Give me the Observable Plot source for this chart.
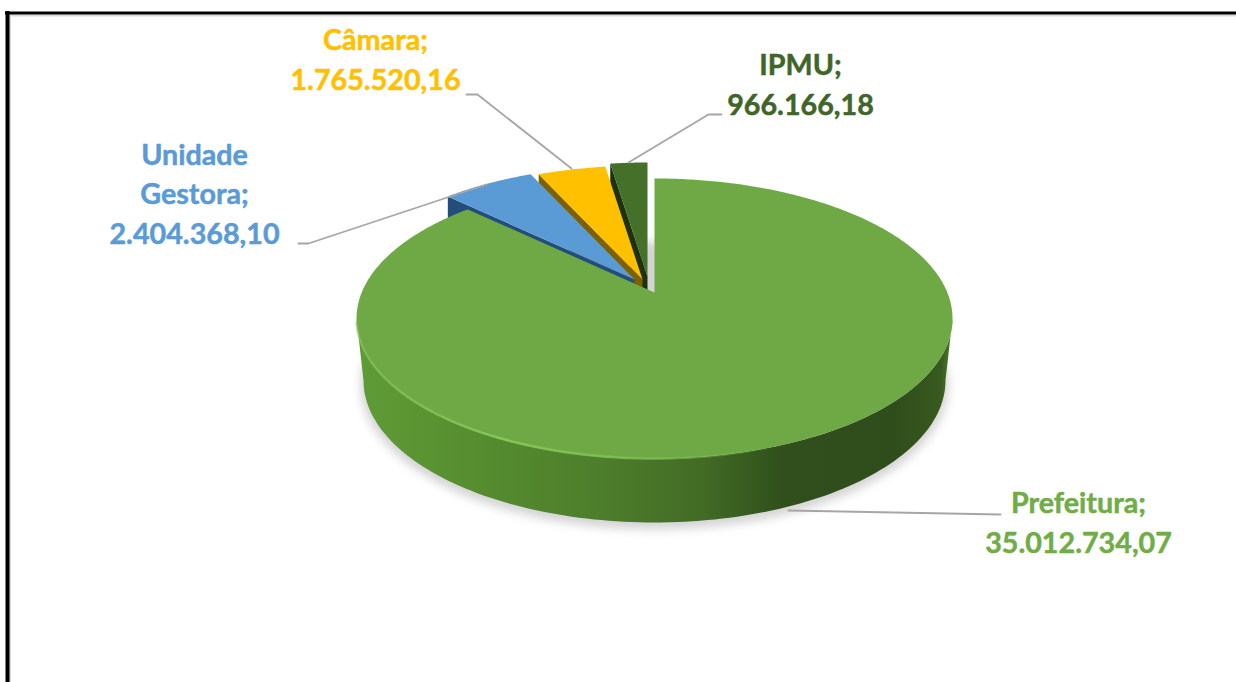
<!DOCTYPE html>
<html>
<head>
<meta charset="utf-8">
<script src="https://cdn.jsdelivr.net/npm/d3@7"></script>
<script src="https://cdn.jsdelivr.net/npm/@observablehq/plot@0.6"></script>
<style>
html,body{margin:0;padding:0;background:#fff;overflow:hidden}
svg{display:block}
</style>
</head>
<body>
<div id="chart"></div>
<script>
// ---- data ----
const categories = ["Prefeitura", "Unidade Gestora", "Câmara", "IPMU"];
const amounts = [35012734.07, 2404368.10, 1765520.16, 966166.18];
const labelNames = ["Prefeitura;", "Unidade\nGestora;", "Câmara;", "IPMU;"];
const topColors = ["#6ea945", "#5b9bd5", "#ffc000", "#44702a"];
const faceColors = ["#4a7a2a", "#234e7c", "#7f6000", "#1d3310"];
const textColors = ["#70ad47", "#5b9bd5", "#ffc000", "#3f6628"];

// ---- layout (pixels of the 1236x682 frame) ----
const W = 1236, H = 682;
const disc = {cx: 654, cy: 318, rx: 298, ry: 140, tilt: -0.186};
const base = {cx: 654, cy: 380, rx: 291, ry: 142};
const explode = [[0, 0], [-20, -13], [-12, -13], [-7, -16]];
const labelAt = [[1078, 520], [194, 191], [375, 57], [800, 82]];
const leaders = [
  [[788, 510], [1000, 514]],
  [[298, 243], [308, 243], [486, 184]],
  [[466, 94], [477, 94], [571, 168]],
  [[721, 114], [708, 114], [628, 162]]
];
const FONT = "Lato, Carlito, sans-serif";
const FONT_SIZE = 28.7;

// ---- geometry helpers ----
const fmt = d3.formatLocale({decimal: ",", thousands: ".", grouping: [3], currency: ["", ""]}).format(",.2f");
const total = d3.sum(amounts);
const rad = d => d * Math.PI / 180;
function project(theta, r = 1) {
  const u = r * Math.sin(theta), v = -r * Math.cos(theta), b = disc.tilt;
  const w = 1 + b * v;
  return {x: disc.cx + disc.rx * u * Math.sqrt(1 - b * b) / w, y: disc.cy + disc.ry * (v + b) / w};
}
const ellipsePts = (e, a0, a1) => d3.range(0, 121).map(i => {
  const a = rad(a0 + (a1 - a0) * i / 120);
  return {x: e.cx + e.rx * Math.cos(a), y: e.cy + e.ry * Math.sin(a)};
});
function poly(points, fill, extra = {}) {
  return Plot.line(points, {x: "x", y: "y", fill, stroke: "none", curve: "linear", ...extra});
}
const blur = px => (index, scales, values, dimensions, context, next) => {
  const g = next(index, scales, values, dimensions, context);
  g.style.filter = `blur(${px}px)`;
  return g;
};

// slices clockwise from the top
let acc = 0;
const slices = amounts.map((v, i) => {
  const a0 = acc / total * 2 * Math.PI;
  acc += v;
  return {i, a0, a1: acc / total * 2 * Math.PI};
});
function wedge(s) {
  const [dx, dy] = explode[s.i];
  const n = Math.max(6, Math.ceil((s.a1 - s.a0) * 80));
  const pts = [project(0, 0)];
  for (let k = 0; k <= n; k++) pts.push(project(s.a0 + (s.a1 - s.a0) * k / n));
  return pts.map(p => ({x: p.x + dx, y: p.y + dy}));
}
function cutFace(s, depth) {
  const [dx, dy] = explode[s.i];
  const apex = project(0, 0), outer = project(s.a0);
  const a = {x: apex.x + dx, y: apex.y + dy}, o = {x: outer.x + dx, y: outer.y + dy};
  return [a, o, {x: o.x, y: o.y + depth}, {x: a.x, y: a.y + depth}];
}

// gradients
const defs = () => {
  const d = d3.create("svg:defs");
  const add = (id, stops) => {
    const g = d.append("linearGradient").attr("id", id).attr("gradientUnits", "userSpaceOnUse")
      .attr("x1", 356).attr("x2", 952).attr("y1", 0).attr("y2", 0);
    stops.forEach(([o, c, op]) => g.append("stop").attr("offset", o).attr("stop-color", c).attr("stop-opacity", op ?? 1));
  };
  add("side", [[0, "#5f9c36"], [0.18, "#578f30"], [0.42, "#4d7d2b"], [0.58, "#426b25"], [0.72, "#304f1c"], [0.9, "#2f4d1b"], [0.98, "#38591f"], [1, "#4c8029"]]);
  add("rim", [[0, "#86c658", 0.5], [0.25, "#86c658", 1], [0.5, "#7dbd50", 0.8], [0.7, "#7dbd50", 0]]);
  return d.node();
};

// ---- marks ----
const small = slices.slice(1).reverse();
const labels = categories.map((c, i) => ({
  text: labelNames[i] + "\n" + fmt(amounts[i]),
  x: labelAt[i][0], y: labelAt[i][1], color: textColors[i]
}));

const plot = Plot.plot({
  width: W, height: H,
  marginTop: 0, marginRight: 0, marginBottom: 0, marginLeft: 0,
  x: {domain: [0, W], range: [0, W], axis: null},
  y: {domain: [0, H], range: [0, H], axis: null},
  style: {background: "#fff"},
  marks: [
    defs,
    // frame
    Plot.ruleX([9.5], {y1: 14, y2: H, stroke: "#d9d9d9", strokeWidth: 2}),
    Plot.ruleY([15], {x1: 9, x2: W, stroke: "#d9d9d9", strokeWidth: 2}),
    Plot.ruleX([7], {y1: 11, y2: H, stroke: "#000", strokeWidth: 4}),
    Plot.ruleY([12.5], {x1: 5, x2: W, stroke: "#000", strokeWidth: 3}),
    // soft shadow under the disc
    poly(ellipsePts({cx: base.cx, cy: base.cy + 5, rx: base.rx + 3, ry: base.ry + 2}, 0, 360), "#d4d4d4", {render: blur(5)}),
    // exploded slices, back to front
    ...small.flatMap(s => [
      poly(cutFace(s, 45), faceColors[s.i]),
      poly(wedge(s), topColors[s.i])
    ]),
    // main slice: wall, then top
    poly([...ellipsePts(disc, 0, 180), ...ellipsePts(base, 180, 0)], "url(#side)"),
    poly(wedge(slices[0]), topColors[0]),
    Plot.line(ellipsePts(disc, 178, 60), {x: "x", y: "y", stroke: "url(#rim)", strokeWidth: 2.5, curve: "linear"}),
    // leader lines
    ...leaders.map(l => Plot.line(l, {x: d => d[0], y: d => d[1], stroke: "#a6a6a6", strokeWidth: 1.8, curve: "linear"})),
    // labels
    Plot.text(labels, {
      x: "x", y: "y", text: "text", fill: "color", stroke: "color", strokeWidth: 0.5, textAnchor: "middle", lineAnchor: "middle",
      fontFamily: FONT, fontWeight: 700, fontSize: FONT_SIZE, lineHeight: 1.38
    })
  ]
});
document.getElementById("chart").appendChild(plot);
</script>
</body>
</html>
